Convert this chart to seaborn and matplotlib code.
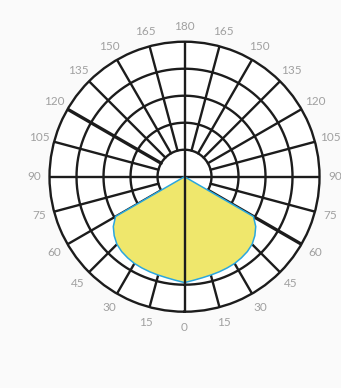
import numpy as np
import pandas as pd
import seaborn as sns
import matplotlib.pyplot as plt

# light distribution values (in ring units, 5 rings)
angles_deg = [0, 5, 10, 15, 20, 25, 30, 35, 40, 45, 50, 55, 58, 60]
intensity = [3.92, 3.85, 3.80, 3.77, 3.75, 3.73, 3.71, 3.67, 3.62, 3.54, 3.40, 3.22, 3.05, 2.95]
tick_angles = list(range(0, 360, 15))
tick_labels = [str(a if a <= 180 else 360 - a) for a in tick_angles]
rings = [1, 2, 3, 4, 5]

sns.set_style("white")
plt.rcParams['font.family'] = ['Lato', 'DejaVu Sans']

fig = plt.figure(figsize=(3.41, 3.88), dpi=100, facecolor='#fafafa')
ax = fig.add_axes([0.1452, 0.1966, 0.7918, 0.6959], projection='polar')
ax.set_facecolor('white')
ax.set_theta_zero_location('S')
ax.set_ylim(0, 5)
ax.set_xticks([])
ax.set_yticks([])
ax.grid(False)
ax.spines['polar'].set_linewidth(1.7)
ax.spines['polar'].set_color('#1c1c1c')

grid_col = '#1c1c1c'
circ = np.linspace(0, 2 * np.pi, 400)
for r in rings[:-1]:
    ax.plot(circ, [r] * len(circ), color=grid_col, lw=1.7, zorder=1)
for a in tick_angles:
    t = np.deg2rad(a)
    r0 = 0 if a % 90 == 0 else 1
    lw = 2.4 if a in (60, 240) else 1.7
    ax.plot([t, t], [r0, 5], color=grid_col, lw=lw, zorder=1 if a not in (0, 180) else 4)

# mirrored curve, closed through the centre
full_deg = [-a for a in angles_deg[::-1]] + angles_deg[1:]
full_val = intensity[::-1] + intensity[1:]
theta = np.deg2rad([full_deg[0]] + full_deg + [full_deg[-1]])
vals = [0] + full_val + [0]
df = pd.DataFrame({'theta': theta, 'r': vals})

ax.fill(df['theta'], df['r'], color='#efe76c', zorder=2, lw=0)
sns.lineplot(data=df, x='theta', y='r', sort=False, estimator=None,
             color='#2aa7df', lw=1.1, ax=ax, zorder=3)
ax.set_xlabel('')
ax.set_ylabel('')
ax.set_ylim(0, 5)

for a, lab in zip(tick_angles, tick_labels):
    ax.text(np.deg2rad(a), 5.58, lab, ha='center', va='center',
            fontsize=8.5, color='#a0a0a0', clip_on=False)

fig.savefig('out.png', dpi=100, facecolor=fig.get_facecolor())
